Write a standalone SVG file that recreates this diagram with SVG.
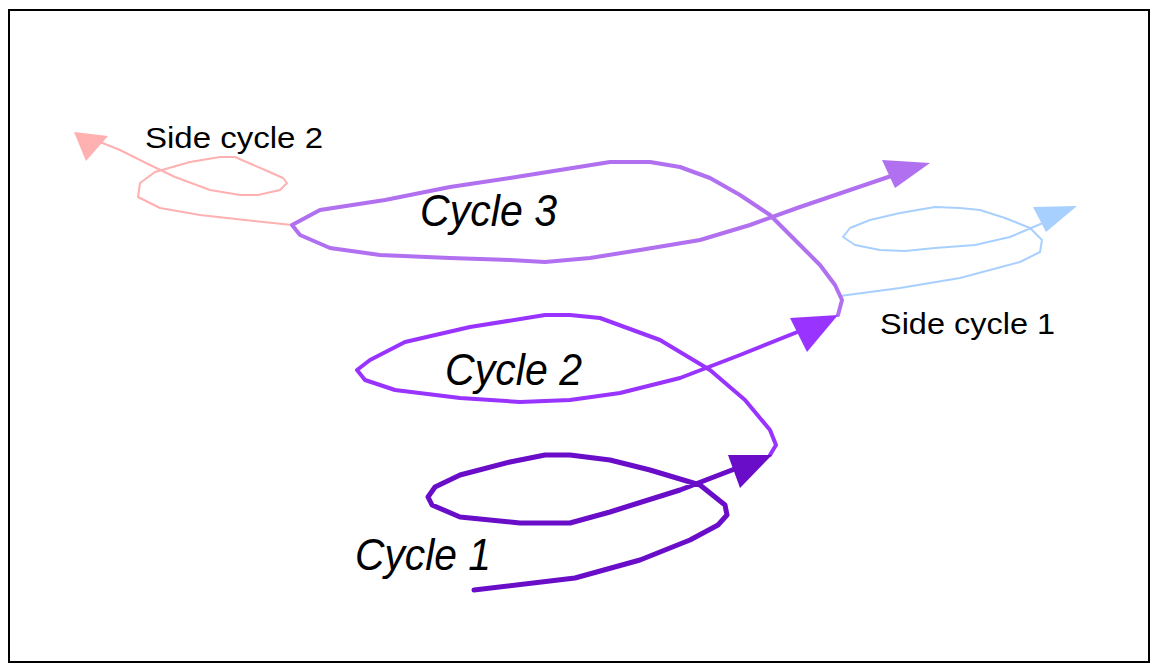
<svg xmlns="http://www.w3.org/2000/svg" width="1160" height="672" viewBox="0 0 1160 672">
<style>
.c{fill:none;stroke-linejoin:round;stroke-linecap:round}
.t{font-family:"Liberation Sans",Arial,sans-serif;fill:#000}
.big{font-size:44px;font-style:italic}
.sm{font-size:30px}
</style>
<rect x="0" y="0" width="1160" height="672" fill="#fff"/>
<rect x="9" y="10" width="1140" height="652" fill="none" stroke="#000" stroke-width="2"/>
<g id="connectors">
<g id="side2">
<polyline class="c" stroke="#ffb0b0" stroke-width="2" points="292,225 245,220 200,215 160,208 138,197 140,183 155,172 190,162 220,157 235,157 265,170 283,178 287,183 280,190 258,195 240,195 210,190 175,177 150,165 120,150 95,140"/>
<polygon fill="#ffb0b0" points="74,132 108,136 86,161"/>
</g>
<g id="side1">
<polyline class="c" stroke="#a8d0ff" stroke-width="2" points="840,296 900,288 960,278 1020,262 1040,252 1042,240 1030,228 1005,218 980,210 960,208 935,207 900,213 870,220 850,228 843,237 855,245 880,250 905,251 935,248 975,245 1010,237 1050,220"/>
<polygon fill="#a8d0ff" points="1077,206 1033,207 1046,232"/>
</g>
<g id="cycle3">
<polyline class="c" stroke="#b070f0" stroke-width="4" points="838,315 842,300 835,285 820,265 800,245 770,215 740,195 710,178 680,167 650,162 610,162 560,170 510,178 450,187 385,200 320,210 292,225 300,235 330,248 380,255 450,258 510,260 545,262 590,258 640,250 700,240 750,225 800,207 850,190 900,173"/>
<polygon fill="#b070f0" points="930,163 882,160 895,188"/>
</g>
<g id="cycle2">
<polyline class="c" stroke="#9933ff" stroke-width="4" points="770,455 776,445 770,430 745,400 710,370 660,340 600,318 570,315 545,315 470,327 405,342 370,360 357,370 365,380 395,390 460,398 520,402 570,400 620,393 680,378 740,355 810,327"/>
<polygon fill="#9933ff" points="838,315 790,318 807,352"/>
</g>
<g id="cycle1">
<polyline class="c" stroke="#6a0dc8" stroke-width="5" points="474,590 575,578 640,560 690,540 718,525 727,515 725,505 700,485 650,470 610,460 570,455 545,455 510,462 460,475 435,487 428,497 432,505 460,517 520,523 570,523 610,512 680,490 745,465"/>
<polygon fill="#6a0dc8" points="772,455 728,455 740,488"/>
</g>
</g>
<g id="labels">
<text class="t big" x="420" y="226" textLength="137" lengthAdjust="spacingAndGlyphs">Cycle 3</text>
<text class="t big" x="445" y="385" textLength="137" lengthAdjust="spacingAndGlyphs">Cycle 2</text>
<text class="t big" x="355" y="570" textLength="136" lengthAdjust="spacingAndGlyphs">Cycle 1</text>
<text class="t sm" x="145" y="148" textLength="178" lengthAdjust="spacingAndGlyphs">Side cycle 2</text>
<text class="t sm" x="880" y="334" textLength="175" lengthAdjust="spacingAndGlyphs">Side cycle 1</text>
</g>
</svg>
